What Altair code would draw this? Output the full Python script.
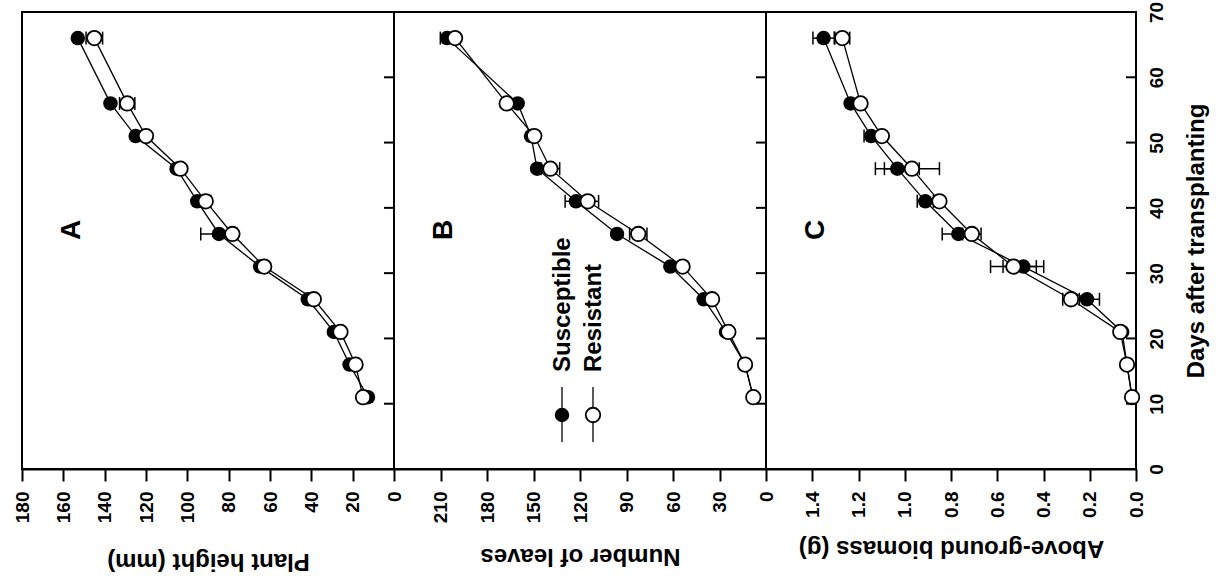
import altair as alt
import pandas as pd

FONT = "Liberation Sans"

# Sampling days after transplanting
days = [11, 16, 21, 26, 31, 36, 41, 46, 51, 56, 66]

# Plant height (mm)
height_sus = [12.6, 21.5, 29.1, 41.7, 64.8, 84.7, 95.2, 105.2, 125.0, 137.2, 153.0]
height_sus_err = [0, 0, 0, 0, 0, 8.8, 0, 0, 0, 0, 0]
height_res = [15.0, 18.6, 25.9, 38.8, 62.8, 78.2, 91.1, 103.3, 120.0, 129.1, 145.0]
height_res_err = [0, 0, 0, 0, 0, 0, 2.5, 0, 0, 3.7, 4.0]

# Number of leaves
leaves_sus = [8.2, 13.5, 25.8, 40.2, 61.7, 96.1, 122.6, 147.7, 151.6, 160.2, 205.8]
leaves_sus_err = [0, 0, 0, 0, 0, 0, 7.0, 0, 0, 0, 4.3]
leaves_res = [8.2, 13.5, 24.3, 34.8, 53.8, 82.4, 115.0, 139.1, 149.5, 167.3, 200.6]
leaves_res_err = [0, 0, 0, 0, 0, 5.6, 7.0, 6.0, 0, 0, 0]

# Above-ground biomass (g)
biomass_sus = [0.017, 0.039, 0.060, 0.212, 0.487, 0.768, 0.911, 1.032, 1.145, 1.234, 1.351]
biomass_sus_err = [0, 0, 0, 0.054, 0.088, 0.070, 0.035, 0.095, 0.031, 0, 0.046]
biomass_res = [0.017, 0.039, 0.068, 0.281, 0.530, 0.710, 0.850, 0.969, 1.099, 1.191, 1.270]
biomass_res_err = [0, 0, 0, 0.036, 0.099, 0.040, 0, 0.119, 0, 0, 0.032]

day_ticks = list(range(0, 71, 10))


def frame(sus, sus_err, res, res_err):
    rows = []
    for name, vals, errs in (("Susceptible", sus, sus_err), ("Resistant", res, res_err)):
        for d, v, e in zip(days, vals, errs):
            rows.append({"day": d, "value": v, "err": e, "lo": v - e, "hi": v + e, "series": name})
    return pd.DataFrame(rows)


def panel(df, width, domain, ticks, fmt, title, title_y, letter, days_axis=False, legend=False):
    xs = alt.Scale(domain=domain, reverse=True, nice=False)
    ys = alt.Scale(domain=[0, 70], nice=False)
    xa = alt.Axis(
        values=ticks, format=fmt, title=title, grid=False,
        labelAngle=270, labelAlign="right", labelBaseline="middle",
        labelFont=FONT, labelFontSize=19, labelFontWeight="bold", labelColor="black",
        labelPadding=10, labelFlush=False, labelOverlap=False,
        tickSize=12, tickWidth=2, tickColor="black",
        domainWidth=2, domainColor="black",
        titleFont=FONT, titleFontSize=24, titleFontWeight="bold", titleColor="black",
        titleAngle=180, titleBaseline="middle", titleAlign="center", titleY=title_y,
    )
    if days_axis:
        ya = alt.Axis(
            orient="right",
            values=day_ticks, grid=False, ticks=False, domain=False,
            labelAngle=270, labelAlign="center", labelBaseline="top",
            labelFont=FONT, labelFontSize=19, labelFontWeight="bold", labelColor="black",
            labelPadding=11, labelOverlap=False,
            title="Days after transplanting",
            titleFont=FONT, titleFontSize=24, titleFontWeight="bold", titleColor="black",
            titleAngle=270, titleBaseline="middle", titleAlign="center",
            titleX=60, titleY=228.5,
        )
    else:
        ya = None

    X = lambda f: alt.X(f, type="quantitative", scale=xs, axis=xa)
    Y = alt.Y("day:Q", scale=ys, axis=ya)

    base = alt.Chart(df)

    lines = base.mark_line(color="black", strokeWidth=1.3).encode(
        x=X("value"), y=Y, detail="series:N", order=alt.Order("day:Q")
    )
    err = base.transform_filter("datum.err > 0")
    bars = err.mark_rule(color="black", strokeWidth=1.5).encode(
        x=X("lo"), x2="hi", y=Y
    )
    cap_lo = err.mark_tick(orient="vertical", size=13, thickness=1.5, color="black", opacity=1).encode(
        x=X("lo"), y=Y
    )
    cap_hi = err.mark_tick(orient="vertical", size=13, thickness=1.5, color="black", opacity=1).encode(
        x=X("hi"), y=Y
    )
    sus = base.transform_filter("datum.series == 'Susceptible'").mark_point(
        shape="circle", filled=True, color="black", size=210, opacity=1
    ).encode(x=X("value"), y=Y)
    res = base.transform_filter("datum.series == 'Resistant'").mark_point(
        shape="circle", filled=True, fill="white", stroke="black", strokeWidth=1.8,
        size=210, opacity=1
    ).encode(x=X("value"), y=Y)

    tick_df = pd.DataFrame({"day": day_ticks})
    inner_ticks = alt.Chart(tick_df).mark_rule(color="black", strokeWidth=2).encode(
        y=Y, x=alt.value(width - 10), x2=alt.value(width)
    )

    one = pd.DataFrame({"k": [0]})
    tag = alt.Chart(one).mark_text(
        text=letter, angle=270, align="center", baseline="middle",
        font=FONT, fontSize=28, fontWeight="bold", color="black"
    ).encode(x=alt.value(50), y=alt.value(218))

    layers = [lines, bars, cap_lo, cap_hi, sus, res, inner_ticks, tag]

    if legend:
        for name, lx, filled in (("Susceptible", 168, True), ("Resistant", 199, False)):
            layers.append(alt.Chart(one).mark_rule(color="black", strokeWidth=1.3).encode(
                x=alt.value(lx), y=alt.value(375), y2=alt.value(430)))
            if filled:
                sym = alt.Chart(one).mark_point(shape="circle", filled=True, color="black",
                                                 size=210, opacity=1)
            else:
                sym = alt.Chart(one).mark_point(shape="circle", filled=True, fill="white",
                                                 stroke="black", strokeWidth=1.8, size=210, opacity=1)
            layers.append(sym.encode(x=alt.value(lx), y=alt.value(403)))
            layers.append(alt.Chart(one).mark_text(
                text=name, angle=270, align="left", baseline="middle",
                font=FONT, fontSize=24, fontWeight="bold", color="black"
            ).encode(x=alt.value(lx + 1), y=alt.value(360)))

    return alt.layer(*layers).properties(width=width, height=457)


pa = panel(frame(height_sus, height_sus_err, height_res, height_res_err), 372,
           [0, 180], list(range(0, 181, 20)), "d", "Plant height (mm)", 91, "A")
pb = panel(frame(leaves_sus, leaves_sus_err, leaves_res, leaves_res_err), 372,
           [0, 240], list(range(0, 211, 30)), "d", "Number of leaves", 86, "B", legend=True)
pc = panel(frame(biomass_sus, biomass_sus_err, biomass_res, biomass_res_err), 370,
           [0, 1.6], [0, 0.2, 0.4, 0.6, 0.8, 1.0, 1.2, 1.4], ".1f",
           "Above-ground biomass (g)", 78, "C", days_axis=True)

chart = alt.hconcat(pa, pb, pc, spacing=0, bounds="flush").properties(
    padding={"left": 12, "top": 0, "right": 5, "bottom": 5},
    background="white",
).configure_view(stroke="black", strokeWidth=2)

chart.save("out.html", embed_options={"renderer": "svg", "actions": False})
